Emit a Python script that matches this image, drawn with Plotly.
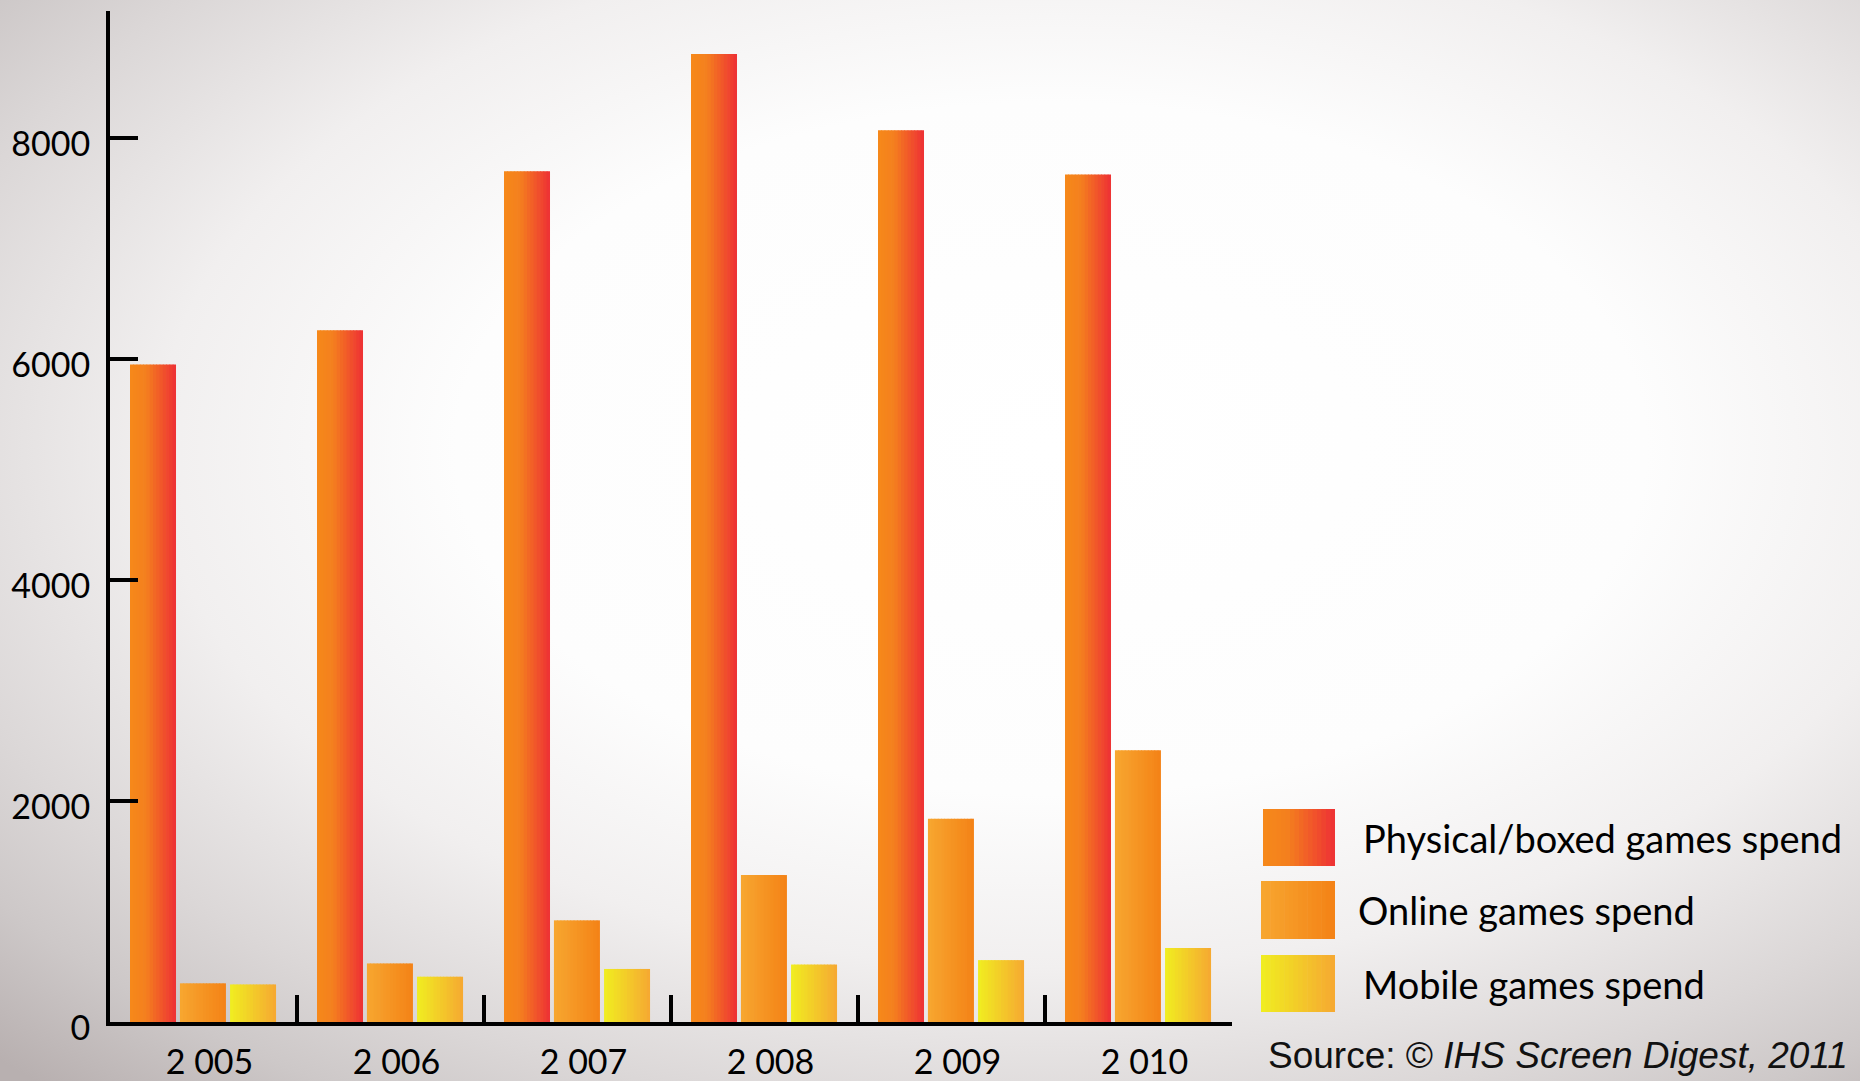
import base64
import plotly.graph_objects as go

# ---------------- data ----------------
years = ["2 005", "2 006", "2 007", "2 008", "2 009", "2 010"]
physical = [5950, 6260, 7700, 8760, 8070, 7670]
online = [350, 530, 920, 1330, 1840, 2460]
mobile = [340, 410, 480, 520, 560, 670]
series_names = ["Physical/boxed games spend", "Online games spend", "Mobile games spend"]
y_tick_vals = [0, 2000, 4000, 6000, 8000]
y_tick_text = ["0", "2000", "4000", "6000", "8000"]
source_text = "Source: © <i>IHS Screen Digest, 2011</i>"

# ---------------- layout geometry ----------------
W, H = 1860, 1081
L, R, T, B = 110, 628, 11, 59
PW, PH = W - L - R, H - T - B
Y_MAX = 9150

def px_x(px):
    return (px - L) / PW

def px_y(py):
    return (H - B - py) / PH

# gradient stops per series (position, (r,g,b))
gradients = [
    [(0.0, (246, 137, 26)), (0.35, (244, 127, 30)), (1.0, (238, 48, 53))],
    [(0.0, (247, 167, 48)), (1.0, (244, 130, 22))],
    [(0.0, (240, 238, 32)), (1.0, (246, 168, 50))],
]

def grad_color(stops, t):
    for (p0, c0), (p1, c1) in zip(stops[:-1], stops[1:]):
        if t <= p1:
            f = (t - p0) / (p1 - p0) if p1 > p0 else 0
            c = [round(a + (b - a) * f) for a, b in zip(c0, c1)]
            return "rgb(%d,%d,%d)" % tuple(c)
    return "rgb(%d,%d,%d)" % stops[-1][1]

N = 14  # strips per bar to imitate the horizontal gradient
bar_w = 46 / 187
offsets = [-0.393, -0.126, 0.142]
values = [physical, online, mobile]

fig = go.Figure()
for s, (vals, off, stops, name) in enumerate(zip(values, offsets, gradients, series_names)):
    sw = bar_w / N
    for k in range(N):
        t = (k + 0.5) / N
        fig.add_trace(go.Bar(
            x=years, y=vals,
            offset=off + k * sw,
            width=sw + (0.004 if k < N - 1 else 0),
            marker=dict(color=grad_color(stops, t), line=dict(width=0)),
            name=name, legendgroup=name, showlegend=False,
            hovertemplate="%{x}: %{y}<extra>" + name + "</extra>",
        ))

# ---------------- background (radial gradient) ----------------
svg = (
    '<svg xmlns="http://www.w3.org/2000/svg" width="1860" height="1081">'
    '<defs><radialGradient id="g" cx="0.565" cy="0.415" r="0.8">'
    '<stop offset="0" stop-color="#ffffff"/>'
    '<stop offset="0.4" stop-color="#fdfdfd"/>'
    '<stop offset="0.6" stop-color="#f1efef"/>'
    '<stop offset="0.78" stop-color="#dbd7d7"/>'
    '<stop offset="0.88" stop-color="#cdc8c8"/>'
    '<stop offset="1" stop-color="#b8b0b0"/>'
    '</radialGradient></defs>'
    '<rect width="1860" height="1081" fill="url(#g)"/></svg>'
)
bg_src = "data:image/svg+xml;base64," + base64.b64encode(svg.encode()).decode()

# ---------------- custom legend ----------------
shapes = []
annotations = []
legend_boxes = [(1263, 809, 1335, 866), (1261, 881, 1335, 939), (1261, 955, 1335, 1012)]
legend_text_x = [1361, 1356, 1361]
M = 16
for (x0, y0, x1, y1), stops, name, tx in zip(legend_boxes, gradients, series_names, legend_text_x):
    sw = (x1 - x0) / M
    for k in range(M):
        t = (k + 0.5) / M
        shapes.append(dict(
            type="rect", xref="paper", yref="paper",
            x0=px_x(x0 + k * sw), x1=px_x(x0 + (k + 1) * sw + (0.6 if k < M - 1 else 0)),
            y0=px_y(y1), y1=px_y(y0),
            fillcolor=grad_color(stops, t), line=dict(width=0), layer="above",
        ))
    annotations.append(dict(
        text=name, xref="paper", yref="paper",
        x=px_x(tx), y=px_y((y0 + y1) / 2), xanchor="left", yanchor="middle",
        showarrow=False, font=dict(family="Lato", size=38, color="#000000"),
    ))

annotations.append(dict(
    text=source_text, xref="paper", yref="paper",
    x=px_x(1266), y=px_y(1055), xanchor="left", yanchor="middle",
    showarrow=False, font=dict(family="Liberation Sans, Arial", size=37, color="#111111"),
))

fig.update_layout(
    width=W, height=H,
    margin=dict(l=L, r=R, t=T, b=B, autoexpand=False),
    barmode="overlay",
    paper_bgcolor="#f4f3f3",
    plot_bgcolor="rgba(0,0,0,0)",
    showlegend=False,
    shapes=shapes,
    annotations=annotations,
    images=[dict(
        source=bg_src, xref="paper", yref="paper",
        x=-L / PW, y=(H - B) / PH, sizex=W / PW, sizey=H / PH,
        xanchor="left", yanchor="top", sizing="stretch", layer="below",
    )],
    xaxis=dict(
        type="category", range=[-0.5, 5.5],
        showline=True, linecolor="#000000", linewidth=4,
        ticks="inside", tickson="boundaries", ticklen=27, tickwidth=4, tickcolor="#000000",
        showgrid=False, zeroline=False,
        tickfont=dict(family="Lato", size=34, color="#000000"),
        ticklabelstandoff=7, ticklabelshift=6,
    ),
    yaxis=dict(
        range=[0, Y_MAX],
        tickvals=y_tick_vals, ticktext=y_tick_text,
        showline=True, linecolor="#000000", linewidth=4,
        ticks="inside", ticklen=28, tickwidth=4, tickcolor="#000000",
        showgrid=False, zeroline=False,
        tickfont=dict(family="Lato", size=34, color="#000000"),
        ticklabelstandoff=9, ticklabelshift=6,
    ),
)

fig.write_html(
    "out.html",
    config={"displayModeBar": False},
    post_script="document.body.style.margin='0';document.body.style.overflow='hidden';",
)
